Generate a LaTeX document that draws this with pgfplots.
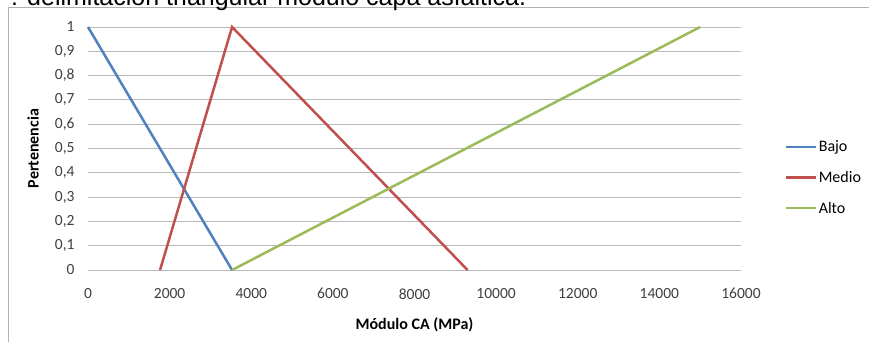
\documentclass[border=0pt]{standalone}
\usepackage{fontspec}
\setmainfont{Carlito}
\newfontfamily\arialfont{Liberation Sans}
\usepackage{pgfplots}
\pgfplotsset{compat=1.18}
\definecolor{cblue}{HTML}{4F81BD}
\definecolor{cred}{HTML}{C0504D}
\definecolor{cgreen}{HTML}{9BBB59}
\begin{document}
\begin{tikzpicture}[x=1bp,y=1bp]
\useasboundingbox (0,0) rectangle (869,341);
\fill[white] (0,0) rectangle (869,341);
\draw[gray!60, line width=1bp] (8,-5) rectangle (880,333);
\node[anchor=base west, inner sep=0pt, font=\arialfont\fontsize{25bp}{30bp}\selectfont] at (-10,335.5) {7 : delimitación triangular módulo capa asfáltica.};
\begin{axis}[
  at={(88bp,71bp)}, anchor=origin,
  scale only axis, width=653bp, height=243bp,
  xmin=0, xmax=16000, ymin=0, ymax=1,
  xtick={0,2000,...,16000}, ytick={0,0.1,...,1.0},
  scaled ticks=false,
  /pgf/number format/assume math mode=true,
  xticklabel style={/pgf/number format/1000 sep={}, yshift=-15bp},
  yticklabel style={/pgf/number format/fixed, /pgf/number format/precision=1, /pgf/number format/use comma, xshift=-10bp},
  ticklabel style={font=\fontsize{15.5bp}{18bp}\selectfont, text=black!75},
  major tick length=0pt,
  axis line style={draw=none},
  ymajorgrids, grid style={gray!55, line width=0.9bp},
  clip=false,
  xlabel={\textbf{Módulo CA (MPa)}},
  ylabel={\textbf{Pertenencia}},
  label style={font=\fontsize{16bp}{19bp}\selectfont},
  xlabel style={at={(axis description cs:0.5,-0.2263)}, anchor=center},
  ylabel style={at={(axis description cs:-0.0842,0.5)}, anchor=center},
  legend style={draw=none, fill=none, at={(rel axis cs:1.066,0.38)}, anchor=west,
    font=\fontsize{16bp}{19bp}\selectfont, row sep=14bp, inner sep=0pt},
  legend cell align=left,
  legend image code/.code={\draw[#1, line width=2.5bp] (0bp,0bp) -- (30bp,0bp);},
  every axis plot/.append style={line width=2.5bp},
]
\addplot[cblue, mark=none] coordinates {(0,1) (3530,0)};
\addlegendentry{Bajo}
\addplot[cred, mark=none] coordinates {(1765,0) (3530,1) (9300,0)};
\addlegendentry{Medio}
\addplot[cgreen, mark=none] coordinates {(3530,0) (15000,1)};
\addlegendentry{Alto}
\end{axis}
\end{tikzpicture}
\end{document}
